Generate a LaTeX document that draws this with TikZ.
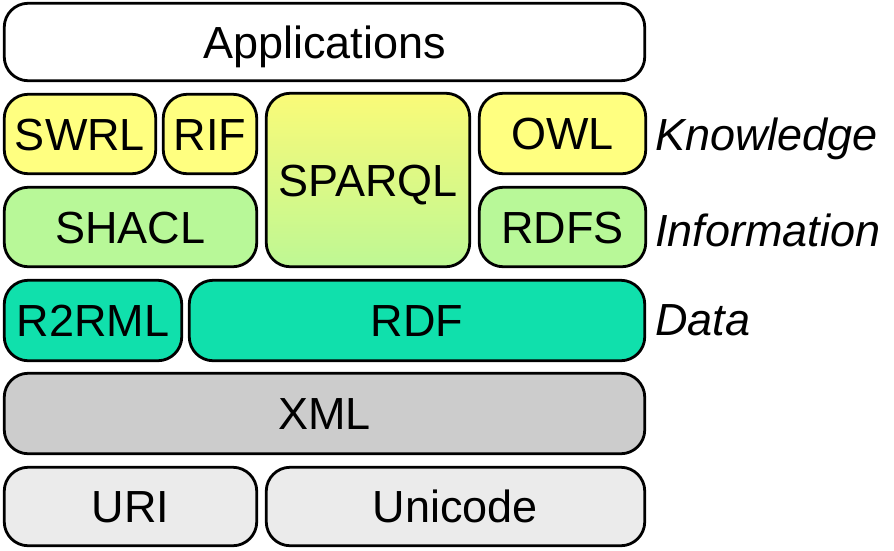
\documentclass[tikz,border=0pt]{standalone}
\usepackage{fontspec}
\setmainfont{Liberation Sans}
\definecolor{kyellow}{HTML}{FFFF80}
\definecolor{sqtop}{HTML}{FAFA78}
\definecolor{sqbot}{HTML}{BEF894}
\definecolor{igreen}{HTML}{B8F898}
\definecolor{dteal}{HTML}{10E0AC}
\definecolor{xgray}{HTML}{CCCCCC}
\definecolor{lgray}{HTML}{EBEBEB}
\begin{document}
\begin{tikzpicture}[x=1pt,y=-1pt,
  layer/.style={draw=black, line width=2.8pt, rounded corners=24pt, inner sep=0pt,
    font=\fontsize{45}{54}\selectfont, text height=32pt, text depth=0pt, align=center},
  side/.style={inner sep=0pt, anchor=base west, font=\fontsize{45}{54}\selectfont\itshape}]
\useasboundingbox (0,0) rectangle (894,550);
\node[layer, fill=white, minimum width=640.5pt, minimum height=77.5pt] (app) at (324.5,42) {Applications};
\node[layer, fill=kyellow, minimum width=151.5pt, minimum height=79.5pt] (swrl) at (80,134) {SWRL};
\node[layer, fill=kyellow, minimum width=93.5pt, minimum height=79.5pt] (rif) at (210,134) {RIF};
\node[layer, top color=sqtop, bottom color=sqbot, minimum width=203.5pt, minimum height=173.5pt] (sparql) at (368,180) {SPARQL};
\node[layer, fill=kyellow, minimum width=166.5pt, minimum height=80.5pt] (owl) at (562.5,133.5) {OWL};
\node[layer, fill=igreen, minimum width=252.5pt, minimum height=79.5pt] (shacl) at (130.5,227) {SHACL};
\node[layer, fill=igreen, minimum width=166.5pt, minimum height=79.5pt] (rdfs) at (562.5,227) {RDFS};
\node[layer, fill=dteal, minimum width=177.5pt, minimum height=80.5pt] (r2rml) at (93,320.5) {R2RML};
\node[layer, fill=dteal, minimum width=455.5pt, minimum height=80.5pt] (rdf) at (417,320.5) {RDF};
\node[layer, fill=xgray, minimum width=640.5pt, minimum height=80.5pt] (xml) at (324.5,413.5) {XML};
\node[layer, fill=lgray, minimum width=252.5pt, minimum height=78.5pt] (uri) at (130.5,506.5) {URI};
\node[layer, fill=lgray, minimum width=378.5pt, minimum height=78.5pt] (unicode) at (455.5,506.5) {Unicode};
\node[side] (know) at (655,150) {Knowledge};
\node[side] (info) at (655,246) {Information};
\node[side] (data) at (655,335) {Data};
\end{tikzpicture}
\end{document}
